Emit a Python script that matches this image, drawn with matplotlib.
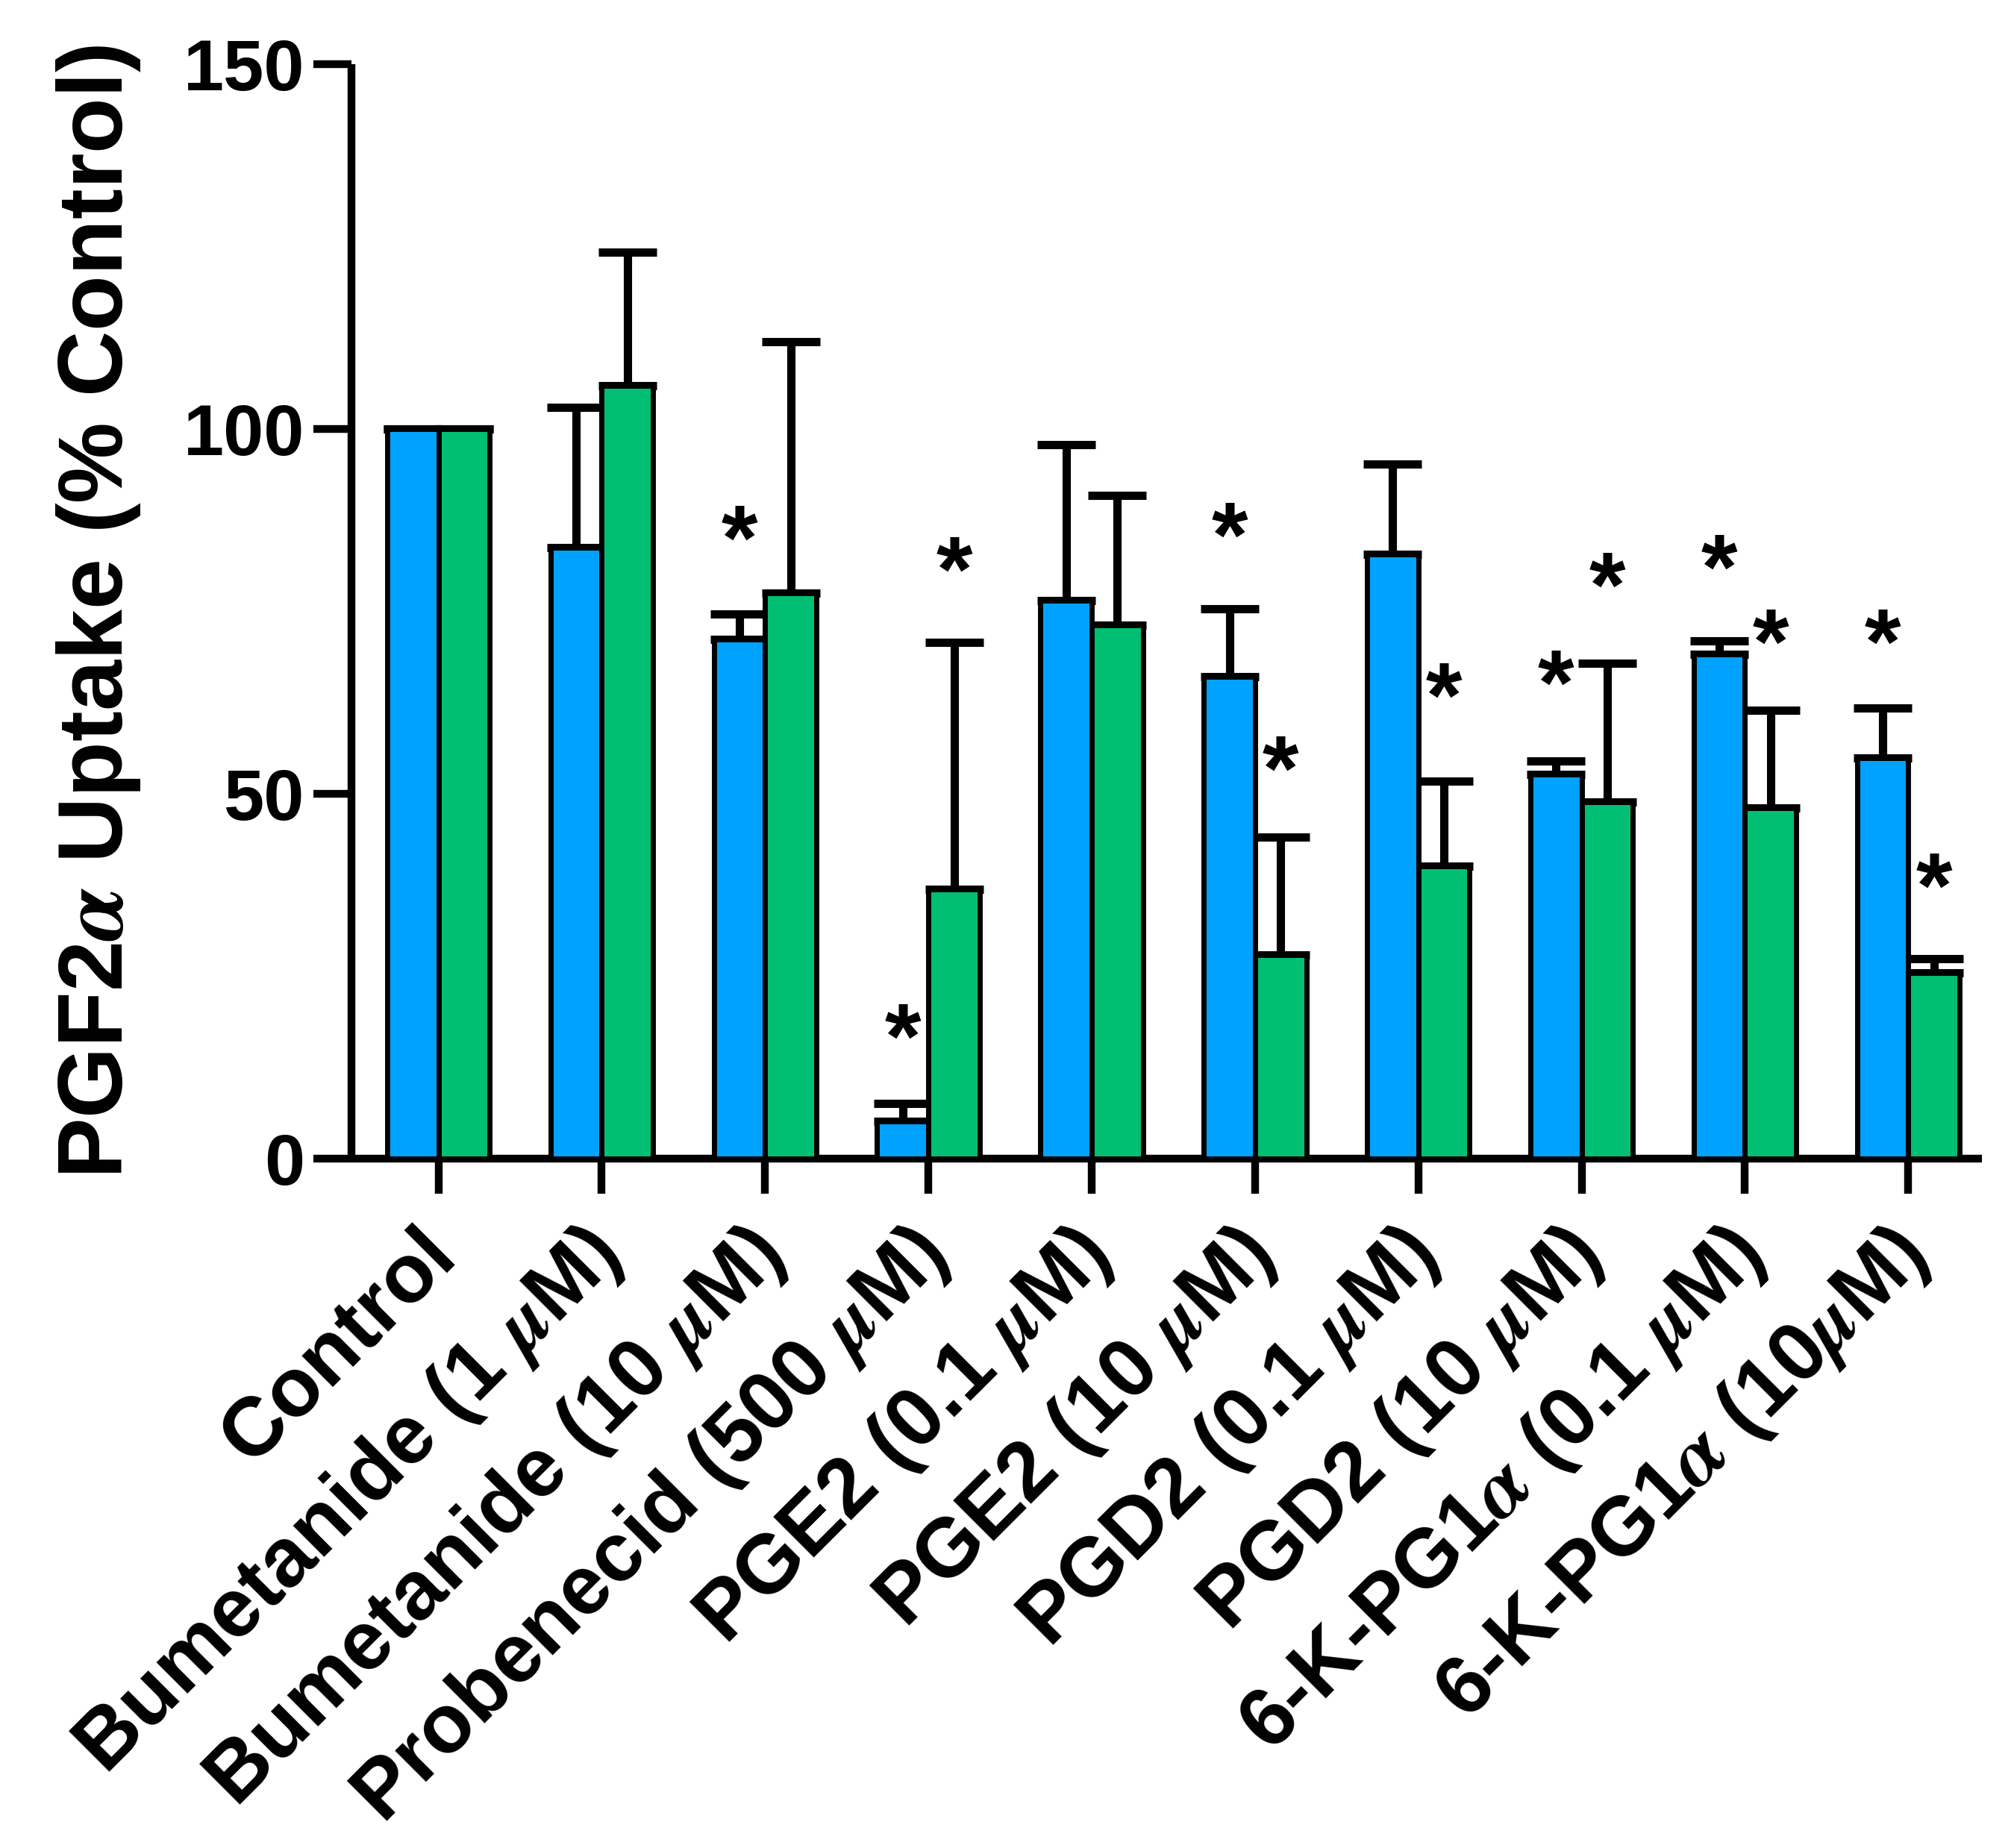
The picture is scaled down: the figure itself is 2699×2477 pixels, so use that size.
import numpy as np
import matplotlib
matplotlib.use('Agg')
import matplotlib.pyplot as plt
import matplotlib.transforms as mtransforms

plt.rcParams['font.family'] = ['Liberation Sans', 'DejaVu Sans']
plt.rcParams['font.weight'] = 'bold'
plt.rcParams['mathtext.fontset'] = 'stix'

labels = ['Control', 'Bumetanide (1 $\\mu$M)', 'Bumetanide (10 $\\mu$M)',
          'Probenecid (500 $\\mu$M)', 'PGE2 (0.1 $\\mu$M)', 'PGE2 (10 $\\mu$M)',
          'PGD2 (0.1 $\\mu$M)', 'PGD2 (10 $\\mu$M)', '6-K-PG1$\\alpha$ (0.1 $\\mu$M)',
          '6-K-PG1$\\alpha$ (10$\\mu$M)']
blue = [100, 83.8, 71.2, 5.1, 76.5, 66.1, 82.9, 52.7, 69.2, 54.9]
blue_err = [0, 19.2, 3.5, 2.5, 21.4, 9.3, 12.3, 1.8, 1.8, 6.9]
green = [100, 106, 77.5, 36.9, 73.1, 27.9, 40.1, 48.9, 48.1, 25.5]
green_err = [0, 18.3, 34.5, 33.9, 17.8, 16.2, 11.7, 19.0, 13.4, 1.9]
# significance stars (y position, None = no star)
blue_star = [None, None, 84, 15.7, None, 84.4, None, 64.2, 80, 69.8]
green_star = [None, None, None, 79.7, None, 52.4, 62.4, 77.6, 69.8, 36.4]

c_blue = '#00A2FF'
c_green = '#00BF72'

fig = plt.figure(figsize=(26.99, 24.77), dpi=100)
ax = fig.add_axes([0.1744, 0.3729, 0.8096, 0.5922])

x = np.arange(len(labels))
w = 0.314
lw = 5
ax.bar(x - w/2, blue, w, color=c_blue, edgecolor='black', linewidth=lw, zorder=3)
ax.bar(x + w/2, green, w, color=c_green, edgecolor='black', linewidth=lw, zorder=3)
ekw = dict(fmt='none', ecolor='black', elinewidth=8, capsize=28, capthick=8, zorder=2)
be = np.array(blue_err)
ge = np.array(green_err)
ax.errorbar(x - w/2, blue, yerr=[np.zeros_like(be), be], **ekw)
ax.errorbar(x + w/2, green, yerr=[np.zeros_like(ge), ge], **ekw)

for i in range(len(labels)):
    if blue_star[i] is not None:
        ax.text(x[i] - w/2, blue_star[i], '*', ha='center', va='center', fontsize=90, fontweight='bold')
    if green_star[i] is not None:
        ax.text(x[i] + w/2, green_star[i], '*', ha='center', va='center', fontsize=90, fontweight='bold')

ax.set_xlim(-0.534, 9.45)
ax.set_ylim(0, 150)
ax.set_yticks([0, 50, 100, 150])
ax.set_xticks(x)
ax.set_xticklabels(labels, rotation=45, ha='right', va='top', rotation_mode='anchor', fontsize=80)
ax.tick_params(axis='y', length=37, width=7.5, labelsize=70, pad=8)
ax.tick_params(axis='x', length=34, width=7.5, pad=20)
shift = mtransforms.ScaledTranslation(-0.3, 0, fig.dpi_scale_trans)
for lab in ax.get_xticklabels():
    lab.set_transform(lab.get_transform() + shift)
for s in ['top', 'right']:
    ax.spines[s].set_visible(False)
for s in ['left', 'bottom']:
    ax.spines[s].set_linewidth(7.5)
    ax.spines[s].set_capstyle('butt')

ax.set_ylabel('PGF2$\\alpha$ Uptake (% Control)', fontsize=88, fontweight='bold')
ax.yaxis.set_label_coords(-0.128, 0.5)

fig.savefig('out.png', dpi=100)
